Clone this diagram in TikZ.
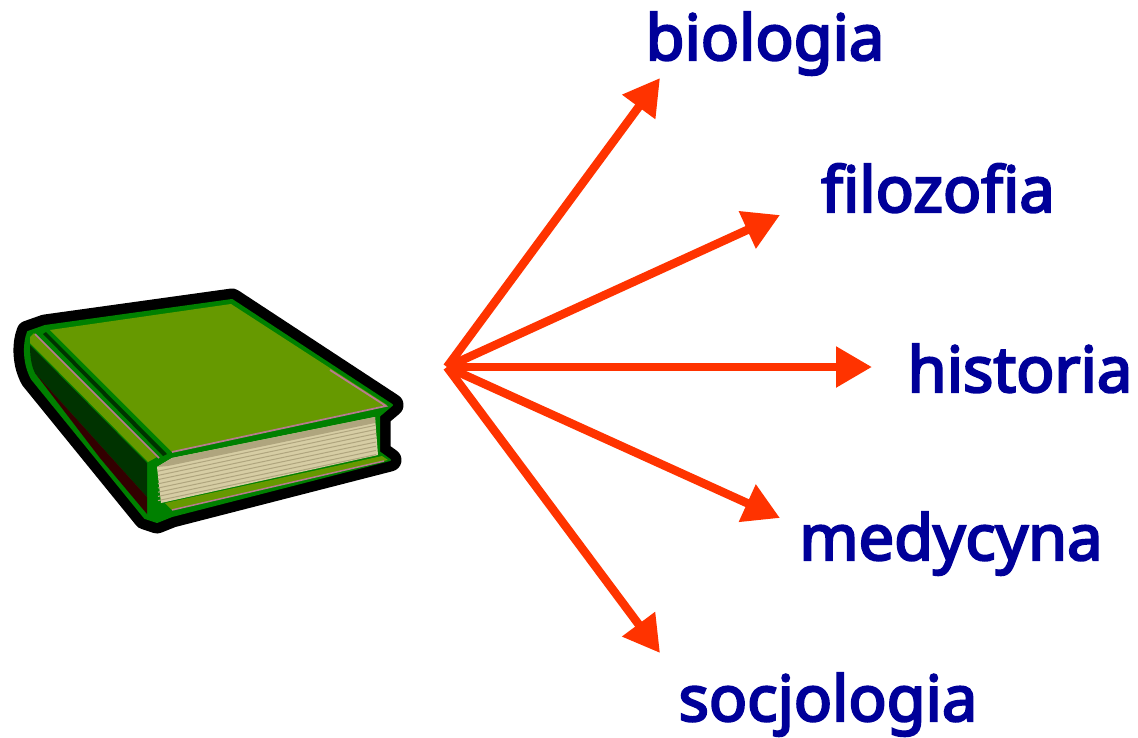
\documentclass[tikz,border=0pt]{standalone}
\usepackage{fontspec}
\setmainfont[Ligatures=NoCommon, AutoFakeBold=3.5]{Noto Sans}
\usepackage{xcolor}
\usetikzlibrary{arrows.meta, positioning}
\definecolor{subject}{HTML}{000099}
\definecolor{pointer}{HTML}{FF3300}
\definecolor{cover}{HTML}{669900}
\definecolor{edging}{HTML}{008000}
\definecolor{trim}{HTML}{B87A90}
\definecolor{paper}{HTML}{D6CDA4}
\definecolor{paperline}{HTML}{AFA57E}

\begin{document}
\begin{tikzpicture}[
        x=0.02cm, y=-0.02cm,
        subject/.style={font=\fontsize{36}{40}\selectfont\bfseries, text=subject, anchor=base, inner sep=0pt},
        arrow/.style={-{Triangle[length=0.72cm, width=0.78cm]}, draw=pointer, line width=0.17cm}
    ]
        \useasboundingbox (0,0) rectangle (1138,737);

        % book
        \def\booksilhouette{(28,332) -- (45,326) -- (232,300) -- (392,405) -- (379,416) -- (379,452) -- (390,460) -- (172,516) -- (157,522) -- (145,518) -- (32,379) .. controls (24,365) and (23,345) .. (28,332) -- cycle}
        \draw[black, fill=black, line width=0.46cm, line join=round] \booksilhouette;
        \draw[edging, fill=edging, line width=0.04cm, line join=round] \booksilhouette;
        % top cover
        \fill[cover] (50,330) -- (231,304) -- (387,405) -- (172,452) -- cycle;
        \draw[trim, line width=0.035cm] (172,452) -- (386,406) -- (330,370);
        % pages
        \fill[paper] (157,467) -- (172,458) -- (375,417) -- (378,455) -- (161,503) -- cycle;
        \fill[paperline] (172,458) -- (375,417) -- (375,423) -- (168,466) -- (157,467) -- cycle;
        \foreach \i in {1,...,8}
            \draw[paperline, line width=0.02cm] (158,{467+\i*4.2}) -- (376,{421+\i*4.2});
        % bottom cover
        \fill[cover] (165,503) -- (382,456) -- (388,460) -- (172,510) -- cycle;
        \draw[trim, line width=0.03cm] (172,510) -- (384,461);
        % spine
        \fill[black!80!green] (43,334) -- (46,332) -- (167,454) -- (163,456) -- cycle;
        \fill[cover] (30,337) -- (34,333) -- (157,457) -- (148,462) -- (30,343) -- cycle;
        \draw[trim, line width=0.03cm] (35,334) -- (159,458);
        \fill[green!20!black] (30,345) -- (147,463) -- (147,497) -- (35,373) .. controls (31,365) and (30,355) .. (30,345) -- cycle;
        \fill[red!20!black] (35,373) -- (147,497) -- (147,514) -- (100,458) -- cycle;

        % subjects
        \coordinate (hub) at (447,367);
        \node[subject] (biologia) at (765,60) {biologia};
        \node[subject] (filozofia) at (938,212) {filozofia};
        \node[subject] (historia) at (1020,392) {historia};
        \node[subject] (medycyna) at (951,560) {medycyna};
        \node[subject] (socjologia) at (828,721) {socjologia};

        \coordinate (tipbiologia) at (660,78);
        \coordinate (tipfilozofia) at (780,215);
        \coordinate (tiphistoria) at (872,367);
        \coordinate (tipmedycyna) at (780,518);
        \coordinate (tipsocjologia) at (660,653);

        \draw[arrow] (hub) -- (tipbiologia);
        \draw[arrow] (hub) -- (tipfilozofia);
        \draw[arrow] (hub) -- (tiphistoria);
        \draw[arrow] (hub) -- (tipmedycyna);
        \draw[arrow] (hub) -- (tipsocjologia);
    \end{tikzpicture}
\end{document}
